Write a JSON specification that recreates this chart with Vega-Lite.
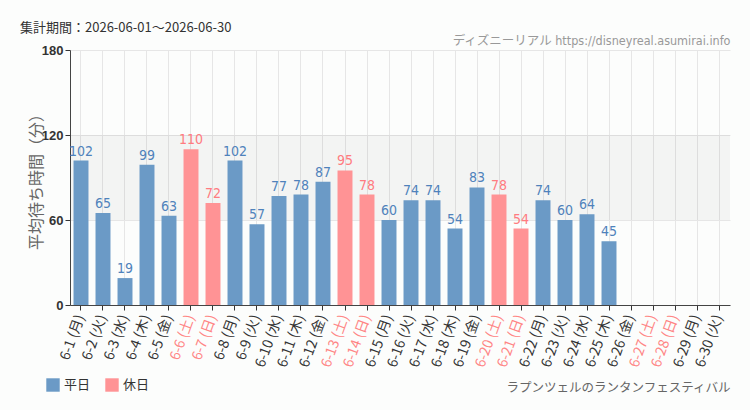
{
  "$schema": "https://vega.github.io/schema/vega-lite/v6.json",
  "width": 660,
  "height": 255,
  "autosize": {"type": "none"},
  "padding": {"left": 70, "top": 50, "right": 20, "bottom": 105},
  "background": "#fcfdfc",
  "config": {
    "font": "Noto Sans CJK JP",
    "view": {"stroke": null}
  },
  "title": {
    "text": "集計期間：2026-06-01～2026-06-30",
    "anchor": "start",
    "frame": "group",
    "dx": -50,
    "dy": 17,
    "fontSize": 13,
    "fontWeight": "normal",
    "color": "#333",
    "offset": 16
  },
  "data": {
    "values": [
      {"d": "6-1 (月)", "v": 102, "t": "平日"},
      {"d": "6-2 (火)", "v": 65, "t": "平日"},
      {"d": "6-3 (水)", "v": 19, "t": "平日"},
      {"d": "6-4 (木)", "v": 99, "t": "平日"},
      {"d": "6-5 (金)", "v": 63, "t": "平日"},
      {"d": "6-6 (土)", "v": 110, "t": "休日"},
      {"d": "6-7 (日)", "v": 72, "t": "休日"},
      {"d": "6-8 (月)", "v": 102, "t": "平日"},
      {"d": "6-9 (火)", "v": 57, "t": "平日"},
      {"d": "6-10 (水)", "v": 77, "t": "平日"},
      {"d": "6-11 (木)", "v": 78, "t": "平日"},
      {"d": "6-12 (金)", "v": 87, "t": "平日"},
      {"d": "6-13 (土)", "v": 95, "t": "休日"},
      {"d": "6-14 (日)", "v": 78, "t": "休日"},
      {"d": "6-15 (月)", "v": 60, "t": "平日"},
      {"d": "6-16 (火)", "v": 74, "t": "平日"},
      {"d": "6-17 (水)", "v": 74, "t": "平日"},
      {"d": "6-18 (木)", "v": 54, "t": "平日"},
      {"d": "6-19 (金)", "v": 83, "t": "平日"},
      {"d": "6-20 (土)", "v": 78, "t": "休日"},
      {"d": "6-21 (日)", "v": 54, "t": "休日"},
      {"d": "6-22 (月)", "v": 74, "t": "平日"},
      {"d": "6-23 (火)", "v": 60, "t": "平日"},
      {"d": "6-24 (水)", "v": 64, "t": "平日"},
      {"d": "6-25 (木)", "v": 45, "t": "平日"},
      {"d": "6-26 (金)", "v": null, "t": "平日"},
      {"d": "6-27 (土)", "v": null, "t": "休日"},
      {"d": "6-28 (日)", "v": null, "t": "休日"},
      {"d": "6-29 (月)", "v": null, "t": "平日"},
      {"d": "6-30 (火)", "v": null, "t": "平日"}
    ]
  },
  "layer": [
    {
      "data": {"values": [{"lo": 60, "hi": 120}]},
      "mark": {"type": "rect", "color": "#000", "opacity": 0.035},
      "encoding": {
        "y": {"field": "lo", "type": "quantitative", "scale": {"domain": [0, 180]}},
        "y2": {"field": "hi"}
      }
    },
    {
      "mark": {"type": "bar", "opacity": 1},
      "encoding": {
        "x": {
          "field": "d", "type": "nominal", "sort": null,
          "scale": {
            "domain": ["6-1 (月)", "6-2 (火)", "6-3 (水)", "6-4 (木)", "6-5 (金)", "6-6 (土)", "6-7 (日)", "6-8 (月)", "6-9 (火)", "6-10 (水)", "6-11 (木)", "6-12 (金)", "6-13 (土)", "6-14 (日)", "6-15 (月)", "6-16 (火)", "6-17 (水)", "6-18 (木)", "6-19 (金)", "6-20 (土)", "6-21 (日)", "6-22 (月)", "6-23 (火)", "6-24 (水)", "6-25 (木)", "6-26 (金)", "6-27 (土)", "6-28 (日)", "6-29 (月)", "6-30 (火)"],
            "paddingInner": 0.32, "paddingOuter": 0.16
          },
          "axis": {
            "title": "ラプンツェルのランタンフェスティバル",
            "titleAnchor": "end",
            "titleFont": "DejaVu Sans Condensed, Noto Sans CJK JP",
            "titleFontSize": 12.5,
            "titleFontWeight": "normal",
            "titleColor": "#666",
            "titleY": 76,
            "labelAngle": -70,
            "labelFontSize": 14,
            "labelColor": {"condition": {"test": "test(/[土日]/, datum.value)", "value": "#ff8585"}, "value": "#333"},
            "labelPadding": 5,
            "domainColor": "#444",
            "tickColor": "#333",
            "tickSize": 5,
            "grid": true,
            "gridColor": "#e6e6e6"
          }
        },
        "y": {
          "field": "v", "type": "quantitative",
          "scale": {"domain": [0, 180]},
          "axis": {
            "values": [0, 60, 120, 180],
            "title": "平均待ち時間（分）",
            "titleFontSize": 16,
            "titleFontWeight": "normal",
            "titleColor": "#666",
            "titlePadding": -3,
            "labelFontSize": 13,
            "labelFontWeight": "bold",
            "labelColor": "#333",
            "labelFont": "Liberation Sans",
            "domainColor": "#444",
            "tickColor": "#333",
            "tickSize": 5,
            "gridColor": "#e6e6e6"
          }
        },
        "color": {
          "field": "t", "type": "nominal",
          "scale": {"domain": ["平日", "休日"], "range": ["#6b9ac6", "#ff9395"]},
          "legend": {
            "title": null,
            "orient": "none",
            "legendX": -24,
            "legendY": 328,
            "direction": "horizontal",
            "symbolType": "square",
            "symbolSize": 180,
            "symbolStrokeWidth": 0,
            "symbolOpacity": 1,
            "labelFontSize": 13,
            "labelColor": "#333",
            "columnPadding": 14
          }
        }
      }
    },
    {
      "transform": [{"filter": "datum.v != null"}],
      "mark": {"type": "text", "dy": -9, "fontSize": 14, "font": "DejaVu Sans Condensed, Roboto, sans-serif"},
      "encoding": {
        "x": {
          "field": "d", "type": "nominal", "sort": null,
          "axis": {
            "orient": "top",
            "title": "ディズニーリアル https://disneyreal.asumirai.info",
            "titleAnchor": "end",
            "titleFont": "DejaVu Sans Condensed, Noto Sans CJK JP",
            "titleFontSize": 12.5,
            "titleFontWeight": "normal",
            "titleColor": "#999",
            "titleY": -3,
            "labels": false,
            "ticks": false,
            "domain": false,
            "grid": false
          }
        },
        "y": {"field": "v", "type": "quantitative"},
        "text": {"field": "v", "type": "quantitative"},
        "color": {
          "field": "t", "type": "nominal",
          "scale": {"domain": ["平日", "休日"], "range": ["#4f82bb", "#ff7b80"]},
          "legend": null
        }
      }
    }
  ],
  "resolve": {"axis": {"x": "independent"}, "scale": {"color": "independent"}}
}
